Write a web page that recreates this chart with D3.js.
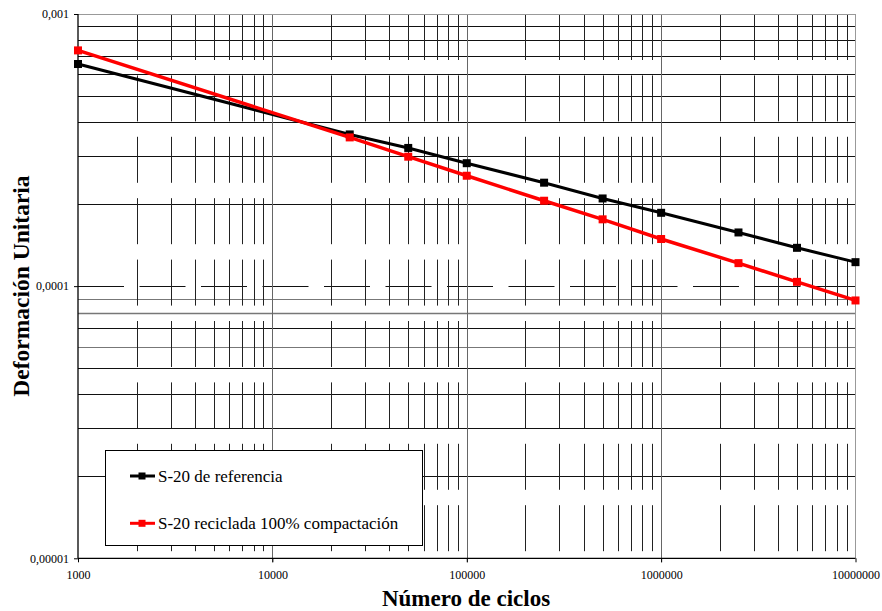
<!DOCTYPE html>
<html><head><meta charset="utf-8">
<script src="https://cdn.jsdelivr.net/npm/d3@7"></script>
<style>body{margin:0;background:#fff}svg text{font-family:"Liberation Serif","Times New Roman",serif !important}</style>
</head><body>
<svg id="c" width="882" height="611"></svg>
<script>
const cycles = [1000, 25000, 50000, 100000, 250000, 500000, 1000000, 2500000, 5000000, 10000000];
const serieRef = [6.55e-4, 3.61e-4, 3.22e-4, 2.83e-4, 2.40e-4, 2.10e-4, 1.86e-4, 1.575e-4, 1.383e-4, 1.225e-4];
const serieRec = [7.35e-4, 3.52e-4, 2.99e-4, 2.545e-4, 2.06e-4, 1.76e-4, 1.49e-4, 1.215e-4, 1.037e-4, 8.86e-5];
const seriesNames = ["S-20 de referencia", "S-20 reciclada 100% compactación"];
const xTicks = [1000, 10000, 100000, 1000000, 10000000];
const xTickLabels = ["1000", "10000", "100000", "1000000", "10000000"];
const yTicks = [0.00001, 0.0001, 0.001];
const yTickLabels = ["0,00001", "0,0001", "0,001"];
const xTitle = "Número de ciclos";
const yTitle = "Deformación Unitaria";

const L = 78, R = 855.5, T = 14, B = 558.3;
const svg = d3.select("#c");
const x = d3.scaleLog().domain([1000, 1e7]).range([L, R]);
const y = d3.scaleLog().domain([1e-5, 1e-3]).range([B, T]);

const g = svg.append("g");
const xMinor = [], yMinor = [];
for (let d = 1000; d < 1e7; d *= 10) for (let k = 2; k <= 9; k++) xMinor.push(d * k);
for (let d = 1e-5; d < 0.9e-3; d *= 10) for (let k = 2; k <= 9; k++) yMinor.push(d * k);

const grayH = v => { const k = Math.round(v / 1e-5); return k === 9 || k === 8 || k === 6; };
g.selectAll(".hm").data(yMinor).join("line")
  .attr("x1", L).attr("x2", R)
  .attr("y1", d => Math.round(y(d)) + 0.5).attr("y2", d => Math.round(y(d)) + 0.5)
  .attr("stroke", d => grayH(d) ? "#777" : "#111")
  .attr("stroke-width", d => Math.round(d / 1e-5) === 8 ? 1.6 : 1);
g.append("line").attr("x1", L).attr("x2", R)
  .attr("y1", Math.round(y(1e-4)) + 0.5).attr("y2", Math.round(y(1e-4)) + 0.5)
  .attr("stroke", "#111").attr("stroke-dasharray", "46,15.5");
g.selectAll(".vm").data(xMinor).join("line")
  .attr("x1", d => Math.round(x(d)) + 0.5).attr("x2", d => Math.round(x(d)) + 0.5)
  .attr("y1", T).attr("y2", B)
  .attr("stroke", "#222").attr("stroke-width", 1)
  .attr("stroke-dasharray", "46,15.4");
g.selectAll(".vM").data(xTicks.slice(1, -1)).join("line")
  .attr("x1", d => Math.round(x(d)) + 0.5).attr("x2", d => Math.round(x(d)) + 0.5)
  .attr("y1", T).attr("y2", B + 4)
  .attr("stroke", "#666").attr("stroke-width", 1);

g.append("line").attr("x1", L).attr("x2", R).attr("y1", T + 0.5).attr("y2", T + 0.5).attr("stroke", "#999");
g.append("line").attr("x1", R).attr("x2", R).attr("y1", T).attr("y2", B).attr("stroke", "#999");

const xAxis = d3.axisBottom(x).tickValues(xTicks).tickFormat((d, i) => xTickLabels[i]).tickSize(4).tickPadding(8);
const xa = svg.append("g").attr("transform", `translate(0,${B})`).call(xAxis);
xa.select(".domain").attr("stroke", "#000").attr("stroke-width", 1.3).attr("d", `M${L},0H${R}`);
xa.selectAll("text").attr("font-size", 12).attr("fill", "#000");
const yAxis = d3.axisLeft(y).tickValues(yTicks).tickFormat((d, i) => yTickLabels[i]).tickSize(4).tickPadding(5);
const ya = svg.append("g").attr("transform", `translate(${L},0)`).call(yAxis);
ya.select(".domain").attr("stroke", "#000").attr("stroke-width", 1.3).attr("d", `M0,${T}V${B}`);
ya.selectAll("text").attr("font-size", 12).attr("fill", "#000");

const series = [
  {vals: serieRef, color: "#000", w: 3},
  {vals: serieRec, color: "#ff0000", w: 3.5}
];
const line = d3.line().x(d => x(d[0])).y(d => y(d[1]));
series.forEach(s => {
  const pts = cycles.map((c, i) => [c, s.vals[i]]);
  svg.append("path").attr("d", line(pts)).attr("fill", "none").attr("stroke", s.color).attr("stroke-width", s.w);
  svg.selectAll(null).data(pts).join("rect")
    .attr("x", d => x(d[0]) - 4).attr("y", d => y(d[1]) - 4).attr("width", 8).attr("height", 8)
    .attr("fill", s.color);
});

const lg = svg.append("g");
lg.append("rect").attr("x", 105.5).attr("y", 450.5).attr("width", 317).attr("height", 95)
  .attr("fill", "#fff").attr("stroke", "#000").attr("stroke-width", 1);
seriesNames.forEach((n, i) => {
  const yy = 476 + i * 47.3;
  lg.append("line").attr("x1", 130).attr("x2", 155).attr("y1", yy).attr("y2", yy)
    .attr("stroke", series[i].color).attr("stroke-width", 3);
  lg.append("rect").attr("x", 138.5).attr("y", yy - 3.5).attr("width", 7).attr("height", 7).attr("fill", series[i].color);
  lg.append("text").attr("x", 158).attr("y", yy + 5.5).attr("font-size", 17).text(n);
});

svg.append("text").attr("x", 466).attr("y", 606).attr("text-anchor", "middle")
  .attr("font-size", 23).attr("font-weight", "bold").text(xTitle);
svg.append("text").attr("transform", "translate(29,286) rotate(-90)").attr("text-anchor", "middle")
  .attr("font-size", 23.5).attr("font-weight", "bold").text(yTitle);
</script>
</body></html>
